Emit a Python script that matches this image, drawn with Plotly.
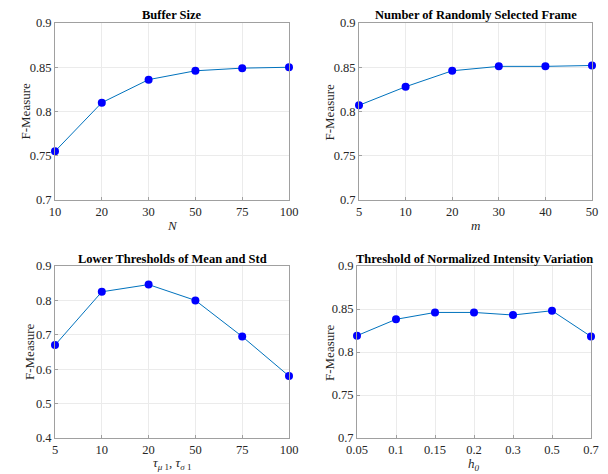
import plotly.graph_objects as go

FONT = "Liberation Serif, Times New Roman, serif"

# Data
buf_cats = ["10", "20", "30", "50", "75", "100"]
buf_vals = [0.755, 0.810, 0.836, 0.846, 0.849, 0.850]

frm_cats = ["5", "10", "20", "30", "40", "50"]
frm_vals = [0.807, 0.828, 0.846, 0.851, 0.851, 0.852]

thr_cats = ["5", "10", "20", "50", "75", "100"]
thr_vals = [0.670, 0.825, 0.846, 0.800, 0.695, 0.580]

inv_cats = ["0.05", "0.1", "0.15", "0.2", "0.3", "0.5", "0.7"]
inv_vals = [0.819, 0.838, 0.846, 0.846, 0.843, 0.848, 0.818]

yt_a = [0.7, 0.75, 0.8, 0.85, 0.9]
yt_a_txt = ["0.7", "0.75", "0.8", "0.85", "0.9"]
yt_b = [0.4, 0.5, 0.6, 0.7, 0.8, 0.9]
yt_b_txt = ["0.4", "0.5", "0.6", "0.7", "0.8", "0.9"]

titles = ["Buffer Size", "Number of Randomly Selected Frame",
          "Lower Thresholds of Mean and Std", "Threshold of Normalized Intensity Variation"]
xlabels = ["<i>N</i>", "<i>m</i>",
           "<i>τ</i><sub><i>μ</i> 1</sub>, <i>τ</i><sub><i>σ</i> 1</sub>", "<i>h</i><sub><i>0</i></sub>"]

panels = [
    (buf_cats, buf_vals, yt_a, yt_a_txt, [0.7, 0.9]),
    (frm_cats, frm_vals, yt_a, yt_a_txt, [0.7, 0.9]),
    (thr_cats, thr_vals, yt_b, yt_b_txt, [0.4, 0.9]),
    (inv_cats, inv_vals, yt_a, yt_a_txt, [0.7, 0.9]),
]

W, H = 608, 474
# pixel boxes: left, right, top, bottom
boxes = [(55, 289, 23, 200), (359, 592, 23, 200), (55, 289, 266, 438), (357, 591, 266, 438)]
ytitle_x = [25, 329, 29, 329]
xtitle_y = [226, 226, 463, 464]
title_y = [15, 15, 259, 259]

fig = go.Figure()
layout = {}
annotations = []
for i, (cats, vals, yt, ytt, yr) in enumerate(panels):
    k = "" if i == 0 else str(i + 1)
    l, r, t, b = boxes[i]
    fig.add_trace(go.Scatter(
        x=cats, y=vals, mode="lines+markers",
        xaxis="x" + k, yaxis="y" + k,
        line=dict(color="#0072BD", width=1),
        marker=dict(color="#0000FF", size=8, line=dict(width=0)),
        cliponaxis=False, showlegend=False))
    axcommon = dict(showline=True, linecolor="#a0a0a0", linewidth=1, mirror=True,
                    showgrid=True, gridcolor="#ebebeb", gridwidth=1,
                    ticks="inside", ticklen=3, tickcolor="#a0a0a0",
                    tickfont=dict(family=FONT, size=12.5, color="#262626"),
                    zeroline=False, automargin=False)
    layout["xaxis" + k] = dict(axcommon, domain=[l / W, r / W], anchor="y" + k,
                               type="category", range=[0, len(cats) - 1])
    layout["yaxis" + k] = dict(axcommon, domain=[1 - b / H, 1 - t / H], anchor="x" + k,
                               range=yr, tickvals=yt, ticktext=ytt)
    cx = (l + r) / 2 / W
    annotations.append(dict(text="<b>" + titles[i] + "</b>", xref="paper", yref="paper",
                            x=cx, y=1 - title_y[i] / H,
                            xanchor="center", yanchor="middle", showarrow=False,
                            font=dict(family=FONT, size=12.5, color="black")))
    annotations.append(dict(text=xlabels[i], xref="paper", yref="paper",
                            x=cx, y=1 - xtitle_y[i] / H,
                            xanchor="center", yanchor="middle", showarrow=False,
                            font=dict(family=FONT, size=13, color="#262626")))
    annotations.append(dict(text="F-Measure", xref="paper", yref="paper",
                            x=ytitle_x[i] / W, y=1 - (t + b) / 2 / H, textangle=-90,
                            xanchor="center", yanchor="middle", showarrow=False,
                            font=dict(family=FONT, size=13, color="#262626")))

fig.update_layout(**layout)
fig.update_layout(width=W, height=H, margin=dict(l=0, r=0, t=0, b=0),
                  paper_bgcolor="white", plot_bgcolor="white",
                  annotations=annotations, font=dict(family=FONT))
fig.write_html("out.html", config={"displayModeBar": False},
               post_script="document.body.style.margin='0';document.body.style.overflow='hidden';")
